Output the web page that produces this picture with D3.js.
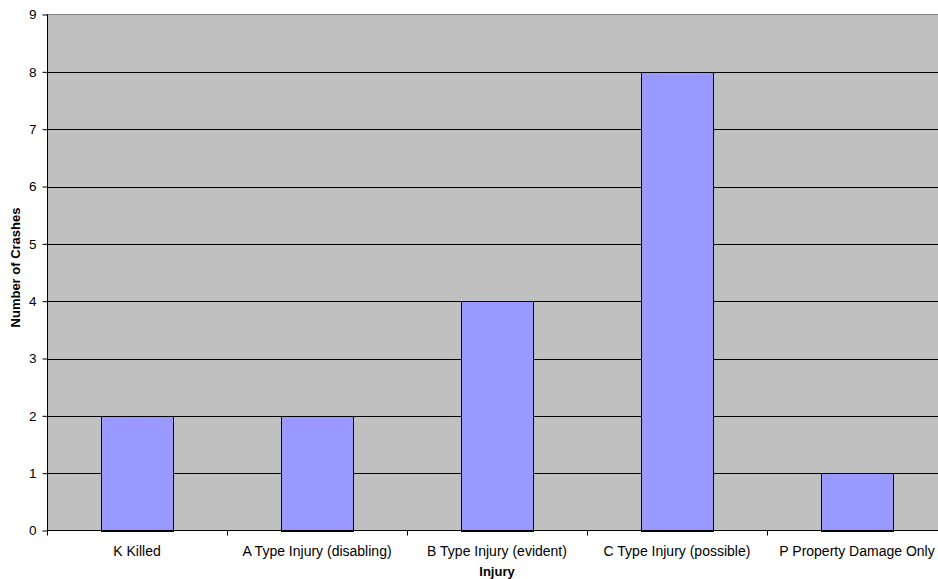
<!DOCTYPE html>
<html><head><meta charset="utf-8">
<script src="https://cdn.jsdelivr.net/npm/d3@7"></script>
<style>body{margin:0;background:#fff}svg{display:block}text{font-family:"Liberation Sans",Arial,sans-serif}</style>
</head><body>
<svg id="c" width="938" height="579"></svg>
<script>
const categories = ["K Killed","A Type Injury (disabling)","B Type Injury (evident)","C Type Injury (possible)","P Property Damage Only"];
const values = [2,2,4,8,1];
const yTicks = [0,1,2,3,4,5,6,7,8,9];

const svg = d3.select("#c");
const L = 47, R = 947, T = 14.5, B = 530.5;
const FONT = '"Liberation Sans",Arial,sans-serif';
const x = d3.scaleBand().domain(categories).range([L, R]).paddingInner(0).paddingOuter(0);
const y = d3.scaleLinear().domain([0, 9]).range([B, T]);

svg.append("rect").attr("x", L).attr("y", T).attr("width", R - L).attr("height", B - T).attr("fill", "#C0C0C0");

// gridlines
svg.append("g").selectAll("line").data(yTicks.filter(d => d > 0 && d < 9)).join("line")
  .attr("x1", L).attr("x2", R).attr("y1", d => Math.round(y(d)) + 0.5).attr("y2", d => Math.round(y(d)) + 0.5)
  .attr("stroke", "#000").attr("stroke-width", 1);
svg.append("line").attr("x1", L).attr("x2", R).attr("y1", T).attr("y2", T).attr("stroke", "#808080").attr("stroke-width", 1);

// bars
const bw = x.bandwidth() * 0.4;
svg.append("g").selectAll("rect").data(categories).join("rect")
  .attr("x", (d) => Math.round(x(d) + (x.bandwidth() - bw) / 2) + 0.5)
  .attr("y", (d, i) => Math.round(y(values[i])) + 0.5)
  .attr("width", bw)
  .attr("height", (d, i) => Math.round(B) - Math.round(y(values[i])))
  .attr("fill", "#9999FF").attr("stroke", "#000").attr("stroke-width", 1);

// y axis
const ya = svg.append("g").attr("transform", `translate(${L + 0.5},0)`)
  .call(d3.axisLeft(y).tickValues(yTicks).tickSize(5).tickPadding(6).tickFormat(d3.format("d")));
ya.select(".domain").attr("d", `M0,${T}V${B}`).attr("stroke", "#000");
ya.selectAll("text").attr("font-size", 13.5).attr("fill", "#000").style("font-family", FONT);
ya.selectAll(".tick line").attr("stroke", "#000");

// x axis
const xa = svg.append("g").attr("transform", `translate(0,${B})`)
  .call(d3.axisBottom(x).tickSize(0).tickPadding(15.5));
xa.select(".domain").attr("d", `M${L},0H${R}`).attr("stroke", "#000");
xa.selectAll("text").attr("font-size", 14).attr("fill", "#000").style("font-family", FONT);
const bounds = categories.map(c => x(c)).concat([R]);
svg.append("g").selectAll("line").data(bounds).join("line")
  .attr("x1", d => Math.round(d) + 0.5).attr("x2", d => Math.round(d) + 0.5)
  .attr("y1", B).attr("y2", B + 5).attr("stroke", "#000");

// titles
svg.append("text").attr("x", (L + R) / 2).attr("y", 576).attr("text-anchor", "middle")
  .attr("font-size", 13).attr("font-weight", "bold").text("Injury");
svg.append("text").attr("transform", `translate(19.5,${(T + B) / 2 - 5}) rotate(-90)`).attr("text-anchor", "middle")
  .attr("font-size", 13).attr("font-weight", "bold").text("Number of Crashes");
</script>
</body></html>
